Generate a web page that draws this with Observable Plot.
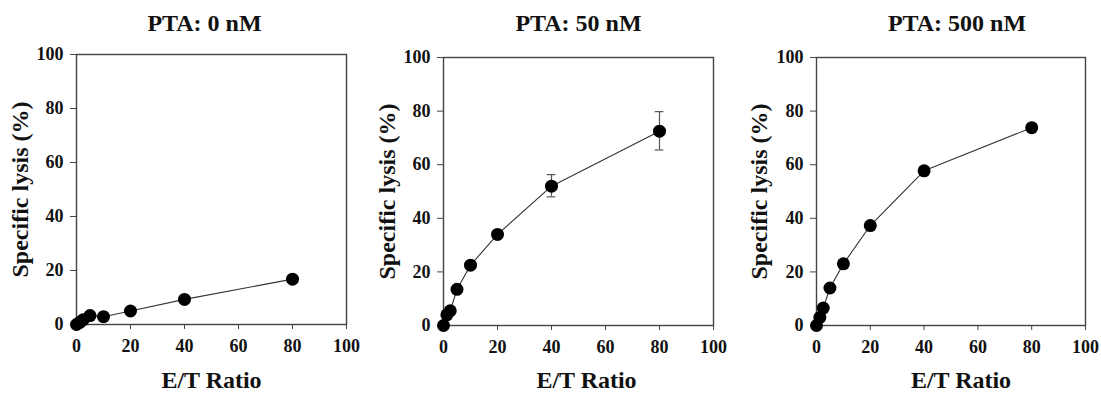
<!DOCTYPE html>
<html>
<head>
<meta charset="utf-8">
<script src="https://cdn.jsdelivr.net/npm/d3@7"></script>
<script src="https://cdn.jsdelivr.net/npm/@observablehq/plot@0.6"></script>
<style>
  html, body { margin: 0; padding: 0; background: #fff; }
  #chart { position: relative; width: 1101px; height: 393px; display: flex; }
  #chart svg { display: block; }
  #chart svg text { font-family: "Liberation Serif", "Times New Roman", serif; font-weight: bold; }
</style>
</head>
<body>
<div id="chart"></div>
<script>
// E/T ratios
const ratios = [0, 1.25, 2.5, 5, 10, 20, 40, 80];
// Specific lysis (%) per PTA concentration
const lysis0 = [0, 0.8, 1.8, 3.3, 2.9, 5.0, 9.3, 16.8];
const lysis50 = [0, 4.0, 5.5, 13.5, 22.5, 34.0, 52.0, 72.5];
const lysis500 = [0, 3.0, 6.5, 14.0, 23.0, 37.3, 57.7, 73.8];
// error bars (only visible ones), panel 50 nM
const err50X = [40, 80];
const err50Lo = [48.0, 65.5];
const err50Hi = [56.3, 79.8];
const titles = ["PTA: 0 nM", "PTA: 50 nM", "PTA: 500 nM"];
const xTicks = [0, 20, 40, 60, 80, 100];
const yTicks = [0, 20, 40, 60, 80, 100];

const panels = [
  {title: titles[0], ys: lysis0, err: null,
   mL: 76, mR: 21, mT: 54, mB: 69, titleDx: -7, xlabDx: 0, ylabDx: -56},
  {title: titles[1], ys: lysis50, err: {x: err50X, lo: err50Lo, hi: err50Hi},
   mL: 76, mR: 21, mT: 57, mB: 68, titleDx: 0, xlabDx: 8, ylabDx: -56},
  {title: titles[2], ys: lysis500, err: null,
   mL: 82, mR: 16, mT: 57, mB: 68, titleDx: 6, xlabDx: 10, ylabDx: -57}
];

const font = "Liberation Serif";
const chart = document.getElementById("chart");

for (const p of panels) {
  const data = ratios.map((x, i) => ({x, y: p.ys[i]}));
  const marks = [
    Plot.frame({stroke: "#444", strokeWidth: 1.4}),
    Plot.axisX({ticks: xTicks, tickSize: 5, tickPadding: 10, stroke: "#444", fill: "#111", label: null, fontSize: 18, fontFamily: font, fontWeight: "bold"}),
    Plot.axisY({ticks: yTicks, tickSize: 6, tickPadding: 7, stroke: "#444", fill: "#111", label: null, fontSize: 18, fontFamily: font, fontWeight: "bold"})
  ];
  if (p.err) {
    const e = p.err.x.map((x, i) => ({x, lo: p.err.lo[i], hi: p.err.hi[i]}));
    marks.push(Plot.ruleX(e, {x: "x", y1: "lo", y2: "hi", stroke: "#555", strokeWidth: 1.2}));
    marks.push(Plot.ruleY(e, {y: "lo", x1: d => d.x - 1.6, x2: d => d.x + 1.6, stroke: "#555", strokeWidth: 1.2}));
    marks.push(Plot.ruleY(e, {y: "hi", x1: d => d.x - 1.6, x2: d => d.x + 1.6, stroke: "#555", strokeWidth: 1.2}));
  }
  marks.push(Plot.line(data, {x: "x", y: "y", stroke: "#333", strokeWidth: 1.1}));
  marks.push(Plot.dot(data, {x: "x", y: "y", r: 6.5, fill: "#000", stroke: "none"}));
  marks.push(Plot.text([p.title], {frameAnchor: "top", dy: 23 - p.mT, dx: p.titleDx, fontSize: 24, fontFamily: font, fontWeight: "bold", fill: "#111", lineAnchor: "middle", textAnchor: "middle"}));
  marks.push(Plot.text(["E/T Ratio"], {frameAnchor: "bottom", dy: 380 - (393 - p.mB), dx: p.xlabDx, fontSize: 24, fontFamily: font, fontWeight: "bold", fill: "#111", lineAnchor: "middle", textAnchor: "middle"}));
  marks.push(Plot.text(["Specific lysis (%)"], {frameAnchor: "left", dx: p.ylabDx, rotate: -90, fontSize: 24, fontFamily: font, fontWeight: "bold", fill: "#111", lineAnchor: "middle", textAnchor: "middle"}));

  const svg = Plot.plot({
    width: 367,
    height: 393,
    marginLeft: p.mL,
    marginRight: p.mR,
    marginTop: p.mT,
    marginBottom: p.mB,
    x: {domain: [0, 100]},
    y: {domain: [0, 100]},
    style: {fontFamily: font, fontWeight: "bold", fontSize: "18px", background: "#fff", color: "#111", overflow: "visible"},
    marks
  });
  chart.appendChild(svg);
}
</script>
</body>
</html>
